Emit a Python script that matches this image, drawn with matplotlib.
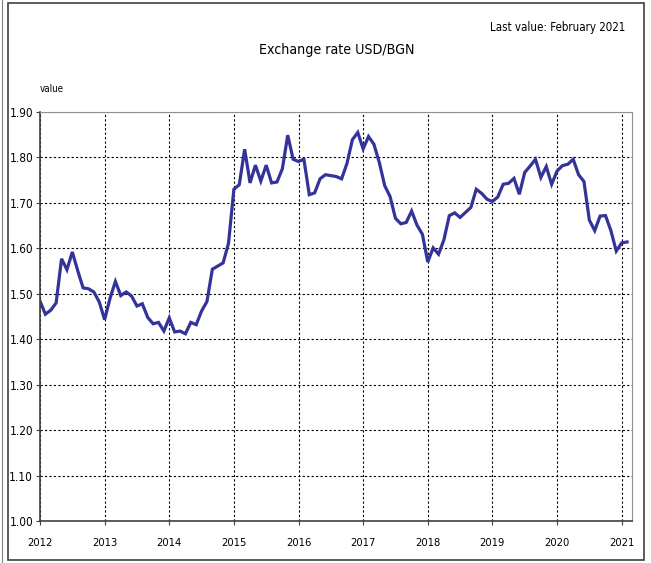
import matplotlib
matplotlib.use("Agg")
import matplotlib.pyplot as plt
from matplotlib.patches import Rectangle
import numpy as np

# Monthly values (end of month), Jan 2012 .. Feb 2021
v2012 = [1.484, 1.455, 1.464, 1.480, 1.577, 1.553, 1.592, 1.551, 1.513, 1.511, 1.504, 1.482]
v2013 = [1.443, 1.490, 1.527, 1.496, 1.504, 1.495, 1.473, 1.478, 1.448, 1.434, 1.437, 1.418]
v2014 = [1.447, 1.416, 1.418, 1.412, 1.437, 1.432, 1.462, 1.483, 1.554, 1.561, 1.568, 1.611]
v2015 = [1.730, 1.740, 1.818, 1.744, 1.783, 1.748, 1.783, 1.744, 1.746, 1.775, 1.849, 1.796]
v2016 = [1.791, 1.796, 1.718, 1.722, 1.753, 1.762, 1.760, 1.758, 1.753, 1.787, 1.839, 1.855]
v2017 = [1.819, 1.846, 1.829, 1.789, 1.738, 1.714, 1.666, 1.654, 1.657, 1.682, 1.651, 1.631]
v2018 = [1.570, 1.601, 1.587, 1.619, 1.672, 1.678, 1.668, 1.679, 1.690, 1.730, 1.721, 1.708]
v2019 = [1.703, 1.713, 1.741, 1.743, 1.754, 1.719, 1.767, 1.781, 1.796, 1.756, 1.780, 1.741]
v2020 = [1.770, 1.782, 1.785, 1.796, 1.762, 1.747, 1.662, 1.639, 1.671, 1.672, 1.639, 1.594]
v2021 = [1.612, 1.614]

values = v2012 + v2013 + v2014 + v2015 + v2016 + v2017 + v2018 + v2019 + v2020 + v2021
start_year = 2012
years = list(range(2012, 2022))
yticks = [1.00, 1.10, 1.20, 1.30, 1.40, 1.50, 1.60, 1.70, 1.80, 1.90]

title = "Exchange rate USD/BGN"
last_value = "Last value: February 2021"
ylabel = "value"

plt.rcParams['font.family'] = ["DejaVu Sans"]
plt.rcParams['font.stretch'] = "condensed"

W, H = 651, 563
fig = plt.figure(figsize=(W / 100, H / 100), dpi=100)
fig.patch.set_facecolor("white")

# outer frame
fig.add_artist(Rectangle((8 / W, 1 - 560 / H), (644 - 8) / W, (560 - 3) / H,
                         transform=fig.transFigure, fill=False, edgecolor="#404040", linewidth=1.2))
fig.add_artist(plt.Line2D([1.5 / W, 1.5 / W], [0, 1], transform=fig.transFigure, color="#808080", linewidth=0.8))

ax = fig.add_axes([40 / W, 1 - 521 / H, (632 - 40) / W, (521 - 112) / H])

x = start_year + np.arange(len(values)) / 12.0
ax.plot(x, values, color="#333399", linewidth=2.3, solid_joinstyle="miter")

ax.set_xlim(2012, 2021.16)
ax.set_ylim(1.0, 1.9)
ax.set_xticks(years)
ax.set_xticklabels([str(y) for y in years])
ax.set_yticks(yticks)
ax.set_yticklabels([f"{t:.2f}" for t in yticks])

ax.grid(True, color="black", linestyle=(0, (2, 2)), linewidth=0.8)
ax.tick_params(axis="y", labelsize=8.5, length=3, color="#404040", pad=2)
ax.tick_params(axis="x", labelsize=8, length=3, color="#404040", pad=9)

for s in ["left", "bottom"]:
    ax.spines[s].set_color("#404040")
    ax.spines[s].set_linewidth(1.2)
ax.spines["right"].set_color("#909090")
ax.spines["top"].set_color("#909090")
ax.spines["top"].set_linestyle((0, (2, 1)))

fig.text(337 / W, 1 - 50 / H, title, ha="center", va="center", fontsize=10.2)
fig.text(625 / W, 1 - 28 / H, last_value, ha="right", va="center", fontsize=8.3)
fig.text(40 / W, 1 - 89 / H, ylabel, ha="left", va="center", fontsize=7)

fig.savefig("out.png", dpi=100)
